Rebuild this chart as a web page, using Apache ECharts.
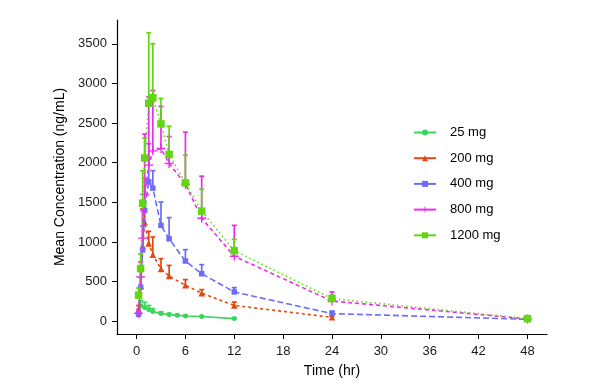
<!DOCTYPE html>
<html><head><meta charset="utf-8">
<script src="https://cdn.jsdelivr.net/npm/echarts@6/dist/echarts.min.js"></script>
<style>html,body{margin:0;padding:0;background:#fff}#c{width:605px;height:390px}</style>
</head><body><div id="c"></div>
<script>
const doseNames = ['25 mg', '200 mg', '400 mg', '800 mg', '1200 mg'];
const yTicks = [0, 500, 1000, 1500, 2000, 2500, 3000, 3500];
const xTicks = [0, 6, 12, 18, 24, 30, 36, 42, 48];

const times25 = [0.25, 0.5, 1, 1.5, 2, 3, 4, 5, 6, 8, 12];
const mean25  = [80, 200, 175, 150, 125, 97, 85, 75, 67, 60, 34];
const upper25 = [110, 260, 240, 200, 160, 120, 100, 88, 78, 68, 40];

const times200 = [0.25, 0.5, 0.75, 1, 1.5, 2, 3, 4, 6, 8, 12, 24];
const mean200  = [150, 450, 950, 1250, 980, 840, 660, 570, 454, 355, 200, 50];
const upper200 = [200, 650, 1420, 1400, 1135, 1063, 790, 705, 526, 400, 243, 65];

const timesHigh = [0.25, 0.5, 0.75, 1, 1.5, 2, 3, 4, 6, 8, 12, 24, 48];
const mean400  = [90, 430, 900, 1400, 1760, 1680, 1210, 1040, 760, 600, 370, 97, 25];
const upper400 = [120, 560, 1200, 1800, 2240, 1900, 1505, 1308, 904, 715, 425, 130, 35];

const mean800  = [100, 560, 1050, 1600, 1970, 2150, 2180, 1990, 1730, 1300, 820, 256, 30];
const upper800 = [150, 750, 1400, 2360, 2830, 2910, 2710, 2330, 2385, 1830, 1210, 370, 45];

const mean1200  = [330, 665, 1490, 2060, 2750, 2820, 2490, 2105, 1745, 1390, 890, 286, 34];
const upper1200 = [420, 850, 1900, 2310, 3640, 3500, 2810, 2460, 2095, 1665, 1035, 330, 50];

const colors = ['#3ad55a', '#e2480f', '#6c6cf8', '#ee2aee', '#62d612'];
const symbols = ['circle', 'triangle', 'rect', 'path://M-1,-0.15 L1,-0.15 L1,0.15 L-1,0.15 Z M-0.15,-1 L0.15,-1 L0.15,1 L-0.15,1 Z', 'rect'];
const symbolSizes = [5, 6.5, 5.5, 9, 7.5];
const dashes = ['solid', [3, 3], [6, 3], [4, 3], [1.5, 3]];

const groups = [
  [times25, mean25, upper25],
  [times200, mean200, upper200],
  [timesHigh, mean400, upper400],
  [timesHigh, mean800, upper800],
  [timesHigh, mean1200, upper1200]
];

function errRender(color) {
  return function (params, api) {
    const x = api.value(0), m = api.value(1), u = api.value(2);
    const p0 = api.coord([x, m]), p1 = api.coord([x, u]);
    const w = 2.5;
    return {
      type: 'group', children: [
        { type: 'line', shape: { x1: p0[0], y1: p0[1], x2: p1[0], y2: p1[1] }, style: { stroke: color, lineWidth: 1.7 } },
        { type: 'line', shape: { x1: p1[0] - w, y1: p1[1], x2: p1[0] + w, y2: p1[1] }, style: { stroke: color, lineWidth: 1.7 } }
      ]
    };
  };
}

const series = [];
groups.forEach((g, i) => {
  const [t, m, u] = g;
  series.push({
    name: doseNames[i] + ' sd', type: 'custom', renderItem: errRender(colors[i]),
    data: t.map((x, k) => [x, m[k], u[k]]), encode: { x: 0, y: [1, 2] }, z: 2 + i * 2, silent: true
  });
  series.push({
    name: doseNames[i], type: 'line', data: t.map((x, k) => [x, m[k]]),
    symbol: symbols[i], symbolSize: symbolSizes[i], showSymbol: true,
    itemStyle: { color: colors[i] },
    lineStyle: { color: colors[i], width: 1.6, type: dashes[i] },
    z: 3 + i * 2, animation: false
  });
});

const chart = echarts.init(document.getElementById('c'), null, { renderer: 'canvas' });
chart.setOption({
  animation: false,
  backgroundColor: '#fff',
  textStyle: { fontFamily: 'Liberation Sans, Arial, sans-serif' },
  grid: { left: 117, right: 58, top: 20, bottom: 56, containLabel: false },
  legend: {
    data: doseNames, orient: 'vertical', left: 408, top: 121,
    itemWidth: 22, itemHeight: 7.5, itemGap: 12.7,
    lineStyle: { type: 'solid', width: 2 },
    textStyle: { fontSize: 13, color: '#000', padding: [0, 0, 0, 9], fontFamily: 'Liberation Sans, Arial, sans-serif' }
  },
  xAxis: {
    type: 'value', min: -2.4, max: 50.4,
    name: 'Time (hr)', nameLocation: 'middle', nameGap: 30,
    nameTextStyle: { fontSize: 14, color: '#000' },
    axisLine: { onZero: false, lineStyle: { color: '#000', width: 1.2 } },
    axisTick: { show: true, length: 5, customValues: xTicks, lineStyle: { color: '#000' } },
    axisLabel: { customValues: xTicks, fontSize: 13, color: '#1a1a1a', margin: 11 },
    splitLine: { show: false }
  },
  yAxis: {
    type: 'value', min: -160, max: 3800,
    name: 'Mean Concentration (ng/mL)', nameLocation: 'middle', nameGap: 47,
    nameTextStyle: { fontSize: 14, color: '#000' },
    axisLine: { show: true, onZero: false, lineStyle: { color: '#000', width: 1.2 } },
    axisTick: { show: true, length: 5, customValues: yTicks, lineStyle: { color: '#000' } },
    axisLabel: { customValues: yTicks, fontSize: 13, color: '#1a1a1a', margin: 10, formatter: v => String(v) },
    splitLine: { show: false }
  },
  series: series
});
</script></body></html>
